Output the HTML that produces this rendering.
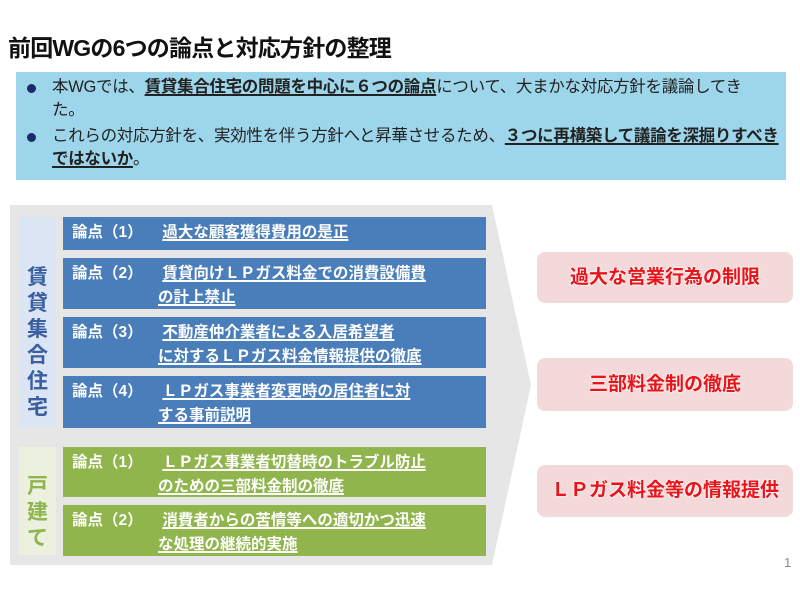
<!DOCTYPE html>
<html><head><meta charset="utf-8"><style>
*{margin:0;padding:0;box-sizing:border-box}
body{width:800px;height:600px;background:#fff;position:relative;overflow:hidden;font-family:"Liberation Sans","Noto Sans CJK JP",sans-serif}
.a{position:absolute}
.title{left:8px;top:29px;font-size:23px;font-weight:bold;color:#111;letter-spacing:-0.8px;white-space:nowrap}
.note{left:16px;top:72px;width:770px;height:108px;background:#9dd5ea}
.note p{position:absolute;left:36px;font-size:16.5px;color:#222;line-height:23px;white-space:nowrap;letter-spacing:-0.3px}
.dot{position:absolute;left:11px;width:9px;height:9px;border-radius:50%;background:#1a2a6c}
u{text-decoration-thickness:1.5px;text-underline-offset:2px}
.box{position:absolute;left:63px;width:423px;color:#fff;font-weight:bold;font-size:15.5px;line-height:24px;white-space:nowrap}
.blue{background:#4a7ebb}.green{background:#8fb54c}
.box .k{position:absolute;left:9px;top:4px}
.box .t{position:absolute;left:95px;top:4px}
.lab{position:absolute;left:19px;width:37px;color:#3a5fa0;font-weight:bold;font-size:21px;line-height:26px;text-align:center}
.pink{position:absolute;left:537px;width:256px;background:#f4d9da;border-radius:8px;color:#e8141a;font-weight:bold;font-size:19px;text-align:center;text-shadow:0 0 2px #fff,0 0 2px #fff;white-space:nowrap}
</style></head><body>
<div class="a title">前回WGの6つの論点と対応方針の整理</div>
<div class="a note">
<span class="dot" style="top:12px"></span>
<p style="top:4px">本WGでは、<b><u>賃貸集合住宅の問題を中心に６つの論点</u></b>について、大まかな対応方針を議論してき<br>た。</p>
<span class="dot" style="top:61px"></span>
<p style="top:53px">これらの対応方針を、実効性を伴う方針へと昇華させるため、<b><u>３つに再構築して議論を深掘りすべき</u></b><br><b><u>ではないか</u></b>。</p>
</div>
<svg class="a" style="left:0;top:0" width="800" height="600"><polygon points="10,205 492,205 531,385 492,565 10,565" fill="#e6e6e6"/></svg>
<div class="a" style="left:19px;top:217px;width:37px;height:210px;background:#dbe5f3"></div>
<div class="a" style="left:19px;top:447px;width:37px;height:108px;background:#ebf1de"></div>
<div class="lab" style="top:265px">賃<br>貸<br>集<br>合<br>住<br>宅</div>
<div class="lab" style="top:474px;color:#8fb54c">戸<br>建<br>て</div>
<div class="box blue" style="top:217px;height:33px"><span class="k">論点（1）</span><span class="t">&nbsp;<u>過大な顧客獲得費用の是正</u></span></div>
<div class="box blue" style="top:258px;height:51px"><span class="k">論点（2）</span><span class="t">&nbsp;<u>賃貸向けＬＰガス料金での消費設備費</u><br><u>の計上禁止</u></span></div>
<div class="box blue" style="top:317px;height:51px"><span class="k">論点（3）</span><span class="t">&nbsp;<u>不動産仲介業者による入居希望者</u><br><u>に対するＬＰガス料金情報提供の徹底</u></span></div>
<div class="box blue" style="top:376px;height:52px"><span class="k">論点（4）</span><span class="t">&nbsp;<u>ＬＰガス事業者変更時の居住者に対</u><br><u>する事前説明</u></span></div>
<div class="box green" style="top:447px;height:50px"><span class="k">論点（1）</span><span class="t">&nbsp;<u>ＬＰガス事業者切替時のトラブル防止</u><br><u>のための三部料金制の徹底</u></span></div>
<div class="box green" style="top:505px;height:51px"><span class="k">論点（2）</span><span class="t">&nbsp;<u>消費者からの苦情等への適切かつ迅速</u><br><u>な処理の継続的実施</u></span></div>
<div class="pink" style="top:252px;height:51px;line-height:51px">過大な営業行為の制限</div>
<div class="pink" style="top:358px;height:53px;line-height:53px">三部料金制の徹底</div>
<div class="pink" style="top:465px;height:52px;line-height:52px">ＬＰガス料金等の情報提供</div>
<div class="a" style="left:784px;top:555px;font-size:13px;color:#888">1</div>
</body></html>
